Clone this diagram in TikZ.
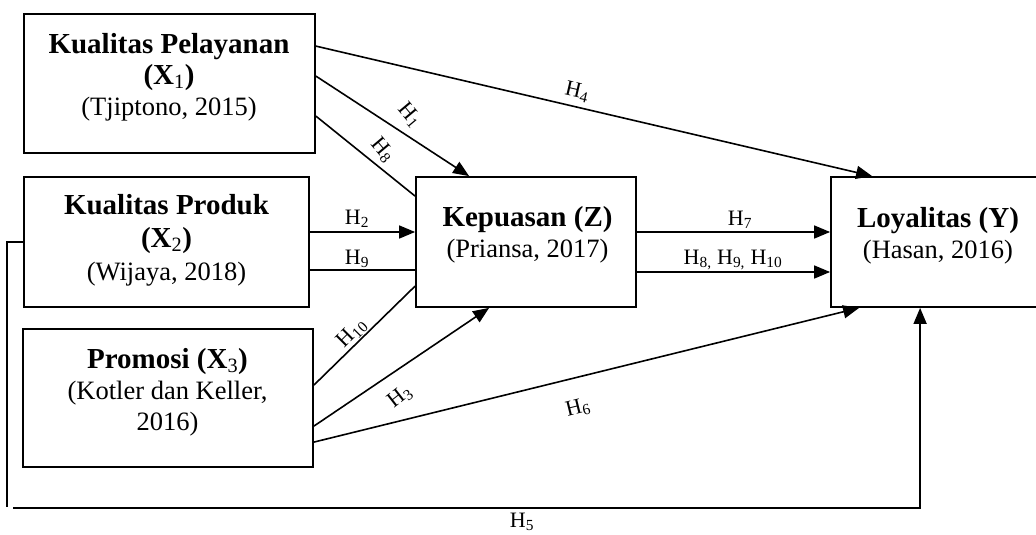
\documentclass[tikz,border=0pt]{standalone}
\usepackage{fontspec}
\setmainfont{Liberation Serif}
\usetikzlibrary{arrows.meta}
\begin{document}
\begin{tikzpicture}[x=1pt,y=-1pt,
  box/.style={draw,line width=1.8pt,inner sep=0pt},
  conn/.style={line width=1.6pt},
  arr/.style={line width=1.6pt,-{Triangle[length=16pt,width=13pt]}},
  btxt/.style={font=\fontsize{26.5}{31}\selectfont,align=center,inner sep=0pt,anchor=base},
  lab/.style={font=\fontsize{22}{24}\selectfont,inner sep=0pt}]
\useasboundingbox (0,0) rectangle (1036,535);
\newcommand{\bld}[1]{{\fontsize{29}{31}\selectfont\bfseries #1}}
% boxes
\node[box,minimum width=291pt,minimum height=139pt] (x1) at (169.5,83.5) {};
\node[box,minimum width=285pt,minimum height=130pt] (x2) at (166.5,242) {};
\node[box,minimum width=290pt,minimum height=138pt] (x3) at (168,398) {};
\node[box,minimum width=220pt,minimum height=130pt] (z) at (526,242) {};
\node[box,minimum width=210pt,minimum height=130pt] (y) at (936,242) {};
% box texts (anchored at the baseline of the last line)
\node[btxt] (tx1) at (169,115) {\bld{Kualitas Pelayanan}\\\bld{(X\textsubscript{\mdseries 1})}\\(Tjiptono, 2015)};
\node[btxt] (tx2) at (166.5,280) {\bld{Kualitas Produk}\\[2pt]\bld{(X\textsubscript{\mdseries 2})}\\[2pt](Wijaya, 2018)};
\node[btxt] (tx3) at (167.5,430) {\bld{Promosi (X\textsubscript{\mdseries 3})}\\(Kotler dan Keller,\\2016)};
\node[btxt] (tz) at (527.5,257) {\bld{Kepuasan (Z)}\\(Priansa, 2017)};
\node[btxt] (ty) at (938,258) {\bld{Loyalitas (Y)}\\(Hasan, 2016)};
% connectors
\draw[arr] ([yshift=-33pt]x1.north east) -- ([xshift=42pt]y.north west);
\draw[arr] ([yshift=-63pt]x1.north east) -- ([xshift=54pt]z.north west);
\draw[conn] ([yshift=-103pt]x1.north east) -- ([yshift=-20pt]z.north west);
\draw[arr] ([yshift=10pt]x2.east) -- ([yshift=10pt]z.west);
\draw[conn] ([yshift=-28pt]x2.east) -- ([yshift=-28pt]z.west);
\draw[conn] ([yshift=-57pt]x3.north east) -- ([yshift=-110pt]z.north west);
\draw[arr] ([yshift=-98pt]x3.north east) -- ([xshift=74pt]z.south west);
\draw[arr] ([yshift=-114pt]x3.north east) -- ([xshift=29pt]y.south west);
\draw[arr] ([yshift=10pt]z.east) -- ([yshift=10pt]y.west);
\draw[arr] ([yshift=-30pt]z.east) -- ([yshift=-30pt]y.west);
\draw[conn] (x2.west) -- ++(-16,0) -- ++(0,265);
\coordinate (h5) at (13,508);
\draw[arr] (h5) -| ([xshift=90pt]y.south west);
% labels
\node[lab,rotate=-50] at (410,115) {H\textsubscript{1}};
\node[lab,rotate=-50] at (383,150) {H\textsubscript{8}};
\node[lab,rotate=-13] at (577,92) {H\textsubscript{4}};
\node[lab] at (357,219) {H\textsubscript{2}};
\node[lab] at (357,259) {H\textsubscript{9}};
\node[lab,rotate=45] at (352,333) {H\textsubscript{10}};
\node[lab,rotate=38] at (400,397) {H\textsubscript{3}};
\node[lab,rotate=14] at (578,408) {H\textsubscript{6}};
\node[lab] at (740,220) {H\textsubscript{7}};
\node[lab] at (733,260) {H\textsubscript{8,} H\textsubscript{9,} H\textsubscript{10}};
\node[lab] at (522,522) {H\textsubscript{5}};
\end{tikzpicture}
\end{document}
